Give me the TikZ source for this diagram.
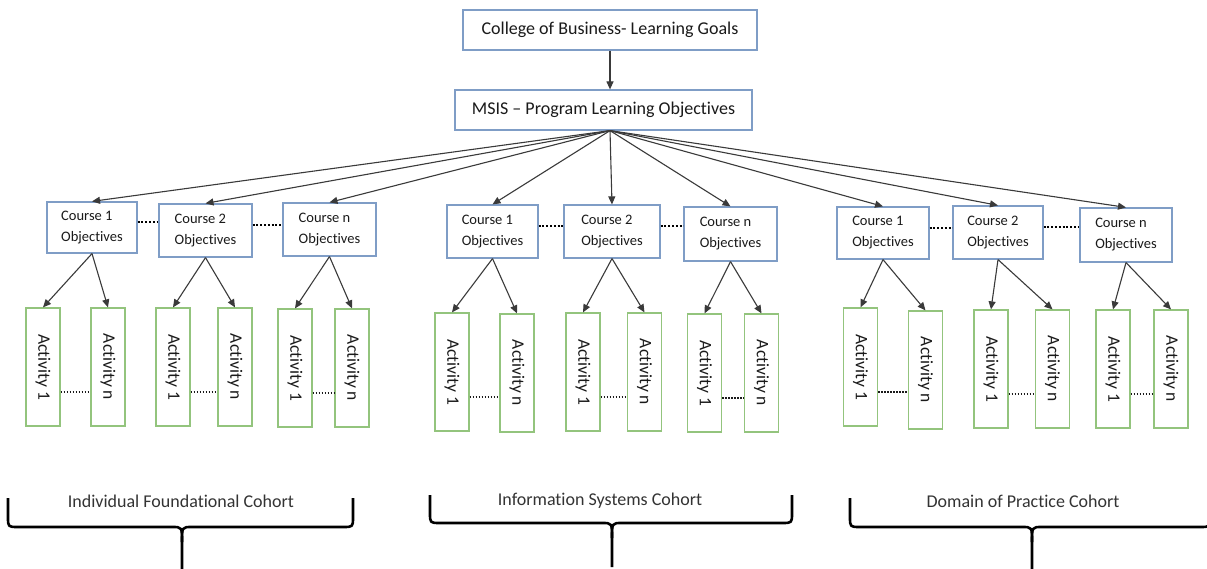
\documentclass[tikz,border=0pt]{standalone}
\usepackage{fontspec}
\setmainfont{Carlito}[Ligatures=NoCommon]
\usetikzlibrary{arrows.meta,calc}
\definecolor{boxblue}{HTML}{7F9DC6}
\definecolor{actgreen}{HTML}{93C47D}
\definecolor{txt}{HTML}{1A1A1A}
\definecolor{cohorttxt}{HTML}{333333}
\definecolor{arrgray}{HTML}{3A3A3A}
\tikzset{
  goal/.style={draw=boxblue, line width=1.2pt, fill=white, inner sep=0pt, minimum height=40pt, font=\fontsize{18}{21}\selectfont, text=txt},
  course/.style={draw=boxblue, line width=1.2pt, fill=white, inner sep=0pt, align=left, font=\fontsize{14.5}{21}\selectfont, text=txt},
  act/.style={draw=actgreen, line width=1.2pt, fill=white, minimum width=34pt, minimum height=118pt, inner sep=0pt, font=\fontsize{17.5}{21}\selectfont, text=txt},
  arr/.style={draw=arrgray, line width=1.1pt, -{Triangle[length=8pt,width=7pt]}},
  cdots/.style={draw=black, line width=2pt, dash pattern=on 2pt off 1.8pt},
  adots/.style={draw=txt, line width=1.5pt, dash pattern=on 1.5pt off 1.5pt},
  brace/.style={draw=black, line width=2.6pt, line join=round},
  cohort/.style={font=\fontsize{18}{21}\selectfont, text=cohorttxt, inner sep=0pt}
}
\begin{document}
\begin{tikzpicture}[x=1pt,y=-1pt]
\useasboundingbox[fill=white] (0,0) rectangle (1207,569);

% top
\node[goal, minimum width=294pt] (cob) at (610,30) {College of Business- Learning Goals};
\node[goal, minimum width=297pt] (msis) at (603.5,110) {MSIS -- Program Learning Objectives};
\draw[arr] (cob.south) -- ([xshift=6.5pt]msis.north);

% ---------- left group ----------
\node[course, minimum width=90pt, minimum height=51pt] (c1a) at (92,227.5) {Course 1\\Objectives};
\node[course, minimum width=93pt, minimum height=53pt] (c2a) at (205.5,230.5) {Course 2\\Objectives};
\node[course, minimum width=93pt, minimum height=53pt] (cna) at (329.5,229.5) {Course n\\Objectives};
\node[act] (a11) at (43,367) {\rotatebox{-90}{Activity 1}};
\node[act] (a1n) at (108,367) {\rotatebox{-90}{Activity n}};
\node[act] (a21) at (173,367) {\rotatebox{-90}{Activity 1}};
\node[act] (a2n) at (235,367) {\rotatebox{-90}{Activity n}};
\node[act] (an1) at (295,368) {\rotatebox{-90}{Activity 1}};
\node[act] (ann) at (352,368) {\rotatebox{-90}{Activity n}};

% ---------- middle group ----------
\node[course, minimum width=91pt, minimum height=53pt] (c1b) at (492.5,231.5) {Course 1\\Objectives};
\node[course, minimum width=96pt, minimum height=53pt] (c2b) at (612,231.5) {Course 2\\Objectives};
\node[course, minimum width=93pt, minimum height=54pt] (cnb) at (730.5,234) {Course n\\Objectives};
\node[act] (b11) at (452,372) {\rotatebox{-90}{Activity 1}};
\node[act] (b1n) at (517,373) {\rotatebox{-90}{Activity n}};
\node[act] (b21) at (583,372) {\rotatebox{-90}{Activity 1}};
\node[act] (b2n) at (644.5,372) {\rotatebox{-90}{Activity n}};
\node[act] (bn1) at (704.5,373) {\rotatebox{-90}{Activity 1}};
\node[act] (bnn) at (761.5,373) {\rotatebox{-90}{Activity n}};

% ---------- right group ----------
\node[course, minimum width=92pt, minimum height=52pt] (c1c) at (883,233) {Course 1\\Objectives};
\node[course, minimum width=90pt, minimum height=53pt] (c2c) at (998,232.5) {Course 2\\Objectives};
\node[course, minimum width=92pt, minimum height=54pt] (cnc) at (1126,235) {Course n\\Objectives};
\node[act] (d11) at (860.5,367) {\rotatebox{-90}{Activity 1}};
\node[act] (d1n) at (925.5,370) {\rotatebox{-90}{Activity n}};
\node[act] (d21) at (991,369) {\rotatebox{-90}{Activity 1}};
\node[act] (d2n) at (1052.5,369) {\rotatebox{-90}{Activity n}};
\node[act] (dn1) at (1113,369) {\rotatebox{-90}{Activity 1}};
\node[act] (dnn) at (1171,369) {\rotatebox{-90}{Activity n}};

% program -> courses
\foreach \c in {c1a,c2a,cna,c1b,c2b,cnb,c1c,c2c,cnc}
  \draw[arr] ([xshift=6.5pt]msis.south) -- (\c.north);

% courses -> activities
\foreach \c/\x/\y in {c1a/a11/a1n, c2a/a21/a2n, cna/an1/ann,
                      c1b/b11/b1n, c2b/b21/b2n, cnb/bn1/bnn,
                      c1c/d11/d1n, c2c/d21/d2n, cnc/dn1/dnn}{
  \draw[arr] (\c.south) -- (\x.north);
  \draw[arr] (\c.south) -- (\y.north);
}

% dotted links between courses
\foreach \p/\q in {c1a/c2a, c2a/cna, c1b/c2b, c2b/cnb, c1c/c2c, c2c/cnc}
  \draw[cdots] ($(\p.east)+(0,-5)$) coordinate (t) -- (t -| \q.west);

% dotted links between activities
\foreach \p/\q in {a11/a1n, a21/a2n, an1/ann, b11/b1n, b21/b2n, bn1/bnn, d11/d1n, d21/d2n, dn1/dnn}
  \draw[adots] ($(\p.east)+(0,25)$) coordinate (t) -- (t -| \q.west);

% cohort labels
\node[cohort] (coh1) at (181,501) {Individual Foundational Cohort};
\node[cohort] (coh2) at (600,501) {Information Systems Cohort};
\node[cohort] (coh3) at (1023,501) {Domain of Practice Cohort};

% braces
\draw[brace] (8,498) -- (8,517) .. controls (8,527) .. (18,527) -- (172,527) .. controls (182,527) .. (182,542) -- (182,575);
\draw[brace] (182,542) .. controls (182,527) .. (192,527) -- (343,527) .. controls (353,527) .. (353,517) -- (353,498);

\draw[brace] (430,495) -- (430,513) .. controls (430,523) .. (440,523) -- (602,523) .. controls (612,523) .. (612,538) -- (612,567);
\draw[brace] (612,538) .. controls (612,523) .. (622,523) -- (782,523) .. controls (792,523) .. (792,513) -- (792,495);

\draw[brace] (850,498) -- (850,517) .. controls (850,527) .. (860,527) -- (1022,527) .. controls (1032,527) .. (1032,542) -- (1032,575);
\draw[brace] (1032,542) .. controls (1032,527) .. (1042,527) -- (1200,527) .. controls (1210,527) .. (1210,517) -- (1210,498);
\end{tikzpicture}
\end{document}
